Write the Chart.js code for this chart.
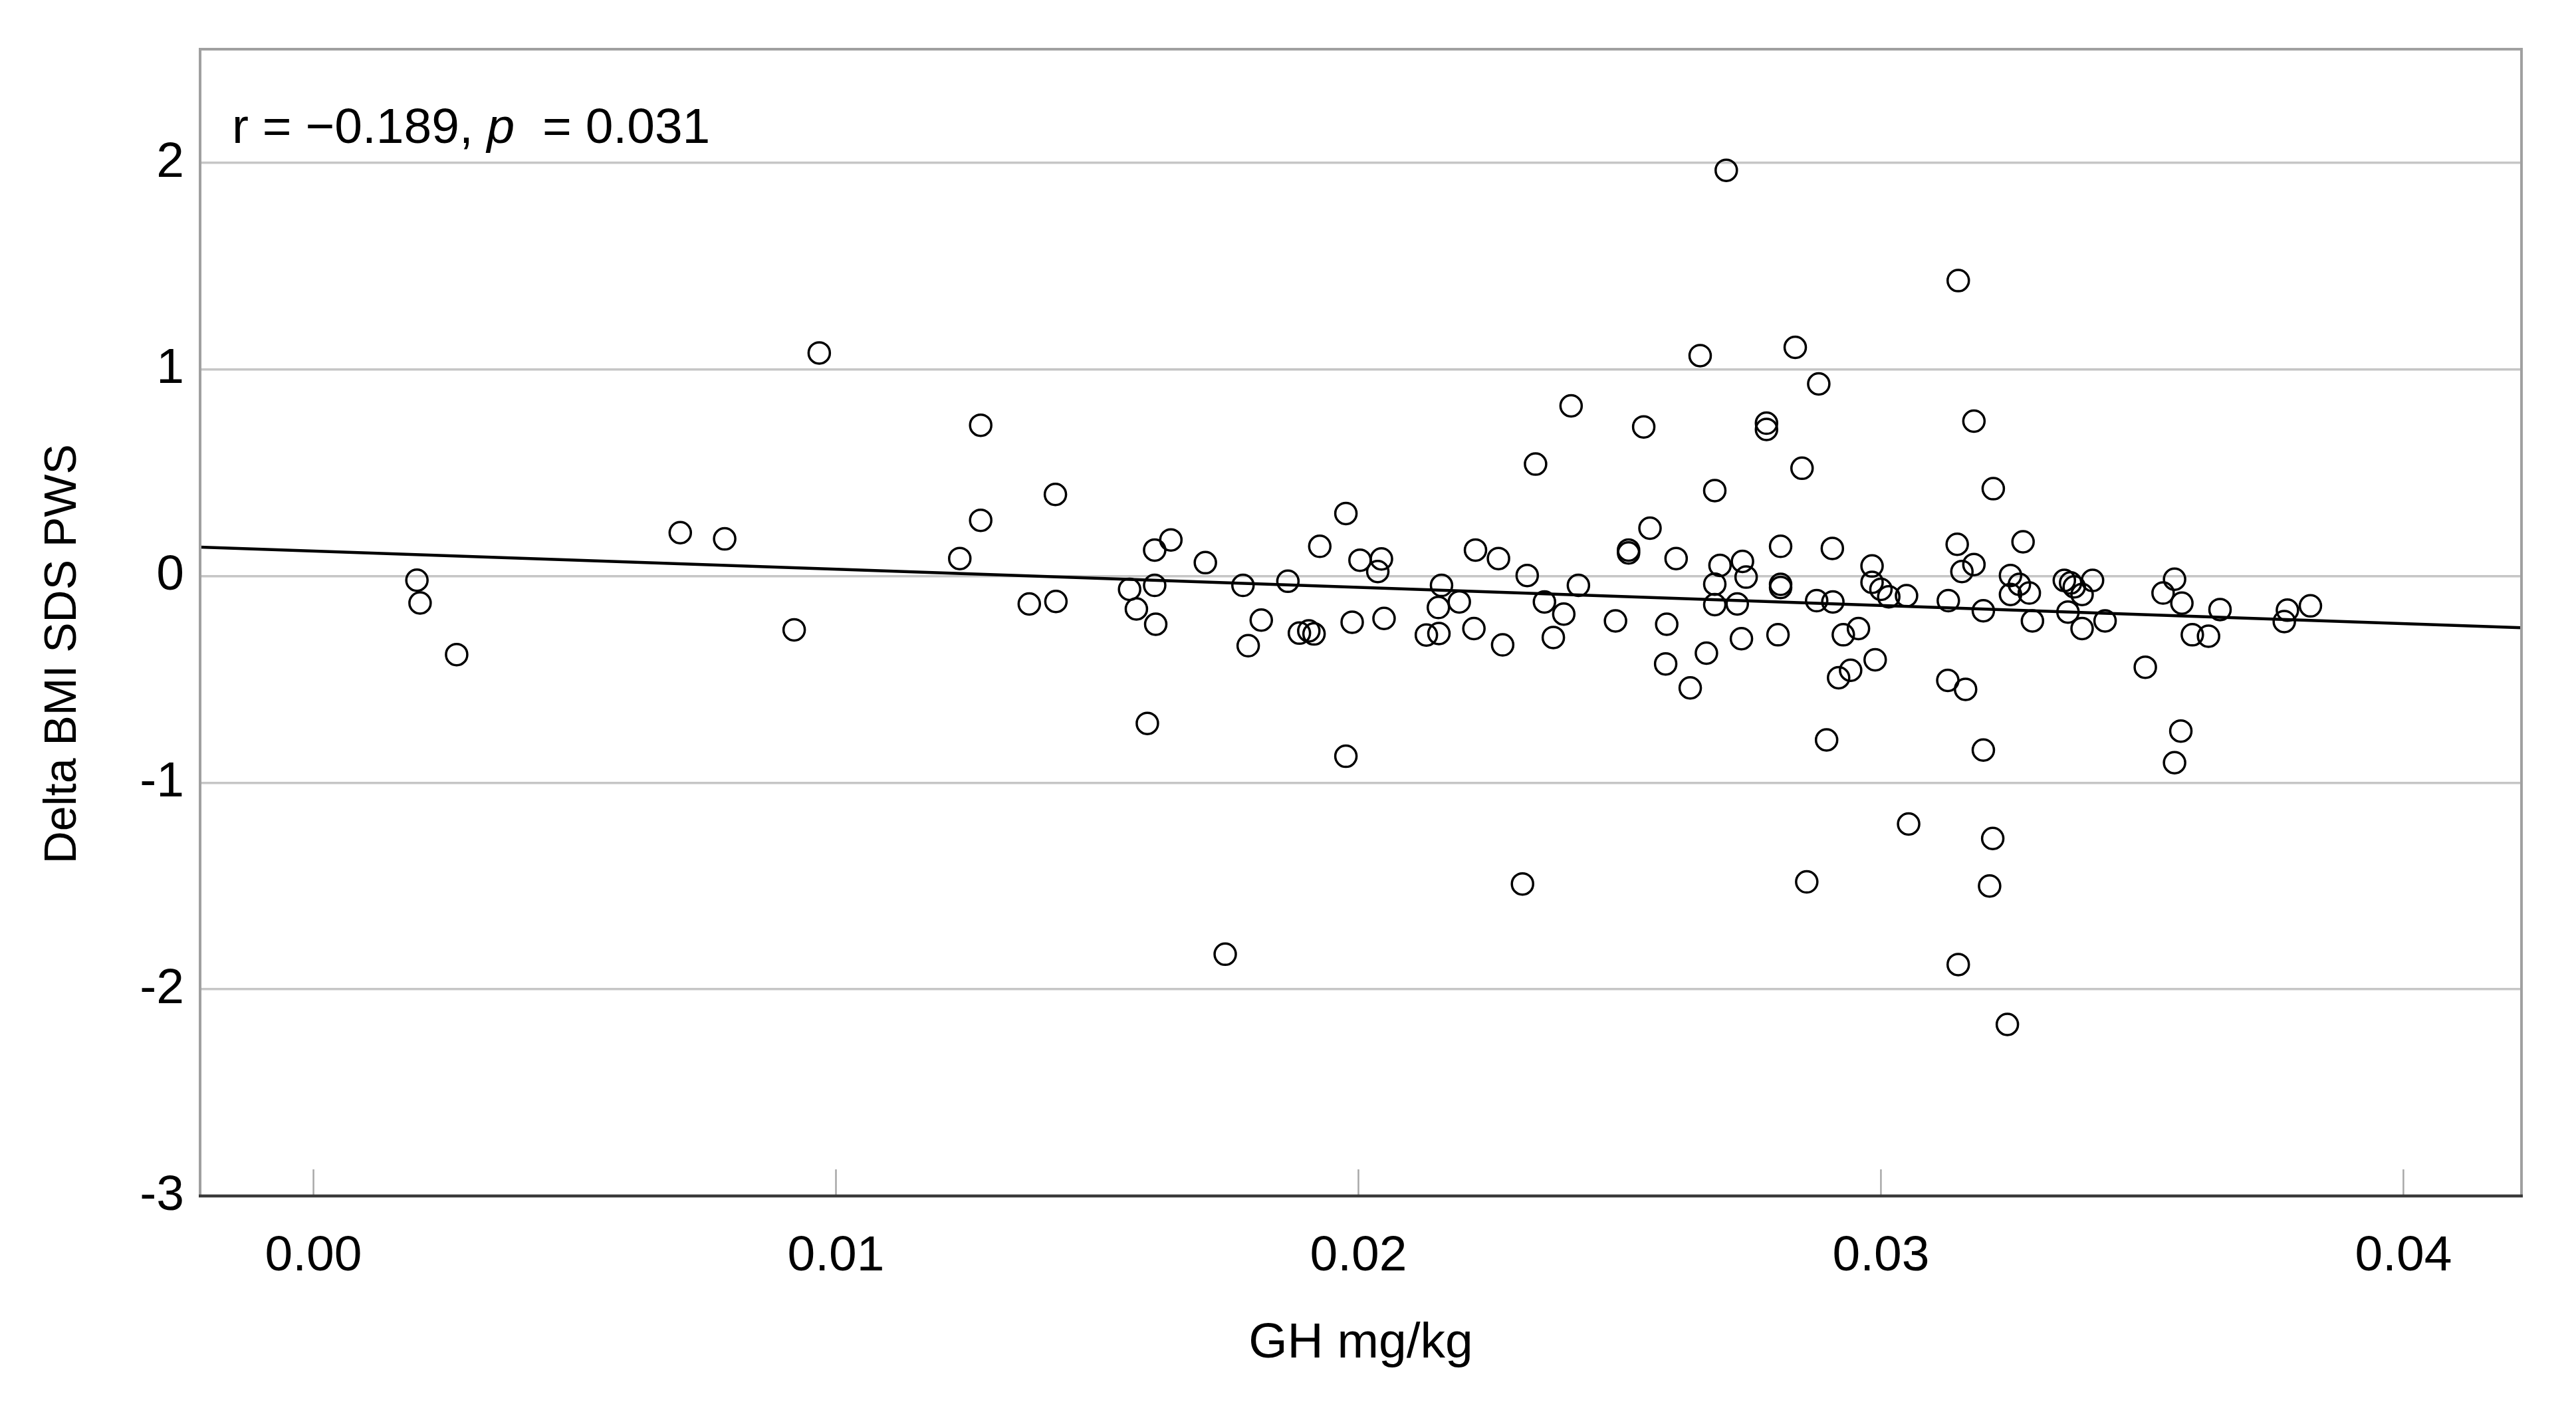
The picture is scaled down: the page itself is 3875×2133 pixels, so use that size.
<!DOCTYPE html>
<html>
<head>
<meta charset="utf-8">
<script src="https://cdn.jsdelivr.net/npm/chart.js@4.4.1/dist/chart.umd.min.js"></script>
<style>
  html, body { margin: 0; padding: 0; background: #fff; }
</style>
</head>
<body>
<canvas id="scatter" width="3875" height="2133"></canvas>
<script>
// GH dose per patient (mg/kg) and matching change in BMI SDS (PWS reference)
const ghDose = [
  0.00198, 0.00204, 0.00274, 0.00702, 0.00787, 0.00920, 0.00968,
  0.01237, 0.01277, 0.01277, 0.01370, 0.01420, 0.01421, 0.01562, 0.01575, 0.01596,
  0.01610, 0.01610, 0.01612, 0.01641, 0.01707, 0.01745, 0.01779, 0.01789, 0.01814,
  0.01865, 0.01887, 0.01905, 0.01915, 0.01926,
  0.01976, 0.01976, 0.01988, 0.02003, 0.02037, 0.02044, 0.02049, 0.02130, 0.02154,
  0.02153, 0.02159, 0.02193, 0.02221, 0.02224, 0.02268, 0.02276, 0.02314, 0.02323,
  0.02339, 0.02356, 0.02373, 0.02393, 0.02407, 0.02421, 0.02492, 0.02517, 0.02517,
  0.02546, 0.02558, 0.02588, 0.02590, 0.02608, 0.02635, 0.02654, 0.02666, 0.02682,
  0.02682, 0.02682, 0.02692, 0.02704,
  0.02725, 0.02733, 0.02735, 0.02742, 0.02781, 0.02781, 0.02803, 0.02808, 0.02808,
  0.02808, 0.02836, 0.02849, 0.02858, 0.02877, 0.02881, 0.02896, 0.02907, 0.02908,
  0.02919, 0.02928, 0.02942, 0.02957, 0.02983, 0.02983, 0.02989, 0.03000, 0.03015,
  0.03049, 0.03053, 0.03128, 0.03129, 0.03146, 0.03148, 0.03148, 0.03155, 0.03162,
  0.03178, 0.03178, 0.03196, 0.03196, 0.03208, 0.03214, 0.03215, 0.03242, 0.03248,
  0.03248, 0.03265, 0.03272, 0.03284, 0.03290, 0.03351, 0.03358, 0.03363, 0.03370,
  0.03385, 0.03385, 0.03405, 0.03429,
  0.03506, 0.03540, 0.03562, 0.03562, 0.03574, 0.03576, 0.03596, 0.03627, 0.03649,
  0.03772, 0.03778, 0.03822
];
const deltaBmi = [
  -0.02, -0.13, -0.38, 0.21, 0.18, -0.26, 1.08,
  0.085, 0.73, 0.27, -0.135, 0.395, -0.123, -0.064, -0.159, -0.713,
  0.126, -0.045, -0.233, 0.175, 0.065, -1.83, -0.045, -0.337, -0.213,
  -0.025, -0.276, -0.265, -0.28, 0.144,
  0.303, -0.872, -0.223, 0.077, 0.022, 0.083, -0.205, -0.285, -0.278,
  -0.152, -0.045, -0.125, -0.254, 0.126, 0.085, -0.333, -1.49, 0.003,
  0.542, -0.125, -0.297, -0.184, 0.824, -0.045, -0.217, 0.126, 0.112,
  0.722, 0.232, -0.425, -0.233, 0.085, -0.541, 1.067, -0.373, 0.414,
  -0.039, -0.138, 0.052, 1.964,
  -0.135, -0.303, 0.071, -0.005, 0.74, 0.71, -0.284, 0.144, -0.04,
  -0.055, 1.107, 0.522, -1.48, -0.119, 0.93, -0.793, 0.134, -0.125,
  -0.492, -0.284, -0.456, -0.254, 0.049, -0.03, -0.405, -0.064, -0.10,
  -0.095, -1.20, -0.505, -0.119, 0.154, 1.43, -1.88, 0.022, -0.548,
  0.75, 0.056, -0.168, -0.842, -1.50, -1.27, 0.423, -2.17, 0.003,
  -0.089, -0.04, 0.166, -0.082, -0.217, -0.021, -0.174, -0.033, -0.052,
  -0.089, -0.254, -0.021, -0.217,
  -0.441, -0.082, -0.015, -0.903, -0.750, -0.131, -0.284, -0.291, -0.162,
  -0.22, -0.165, -0.144
];

const xTicks = [0.00, 0.01, 0.02, 0.03, 0.04];
const yTicks = [-3, -2, -1, 0, 1, 2];
const xRange = [-0.00217, 0.04226];
const yRange = [-3, 2.55];

// linear fit
const fitIntercept = 0.121;
const fitSlope = -8.78;

const points = ghDose.map((d, i) => ({ x: d, y: deltaBmi[i] }));
const fitLine = xRange.map(x => ({ x: x, y: fitIntercept + fitSlope * x }));

const FONT = 'Liberation Sans, Arial, sans-serif';

// frame, inward x tick marks and the r / p label
const framePlugin = {
  id: 'frame',
  beforeDatasetsDraw(chart) {
    const { ctx, chartArea: a, scales: { x } } = chart;
    ctx.save();
    ctx.strokeStyle = '#a8a8a8';
    ctx.lineWidth = 2.5;
    x.ticks.forEach(t => {
      const px = x.getPixelForValue(t.value);
      ctx.beginPath();
      ctx.moveTo(px, a.bottom);
      ctx.lineTo(px, a.bottom - 40);
      ctx.stroke();
    });
    ctx.restore();
  },
  afterDatasetsDraw(chart) {
    const { ctx, chartArea: a } = chart;
    ctx.save();
    ctx.strokeStyle = '#a0a0a0';
    ctx.lineWidth = 4;
    ctx.beginPath();
    ctx.moveTo(a.left, a.bottom);
    ctx.lineTo(a.left, a.top);
    ctx.lineTo(a.right, a.top);
    ctx.lineTo(a.right, a.bottom);
    ctx.stroke();
    ctx.strokeStyle = '#3a3a3a';
    ctx.lineWidth = 4.5;
    ctx.beginPath();
    ctx.moveTo(a.left - 2, a.bottom);
    ctx.lineTo(a.right + 2, a.bottom);
    ctx.stroke();

    // statistics label
    let tx = a.left + 48;
    const ty = a.top + 141;
    ctx.fillStyle = '#000';
    ctx.textBaseline = 'alphabetic';
    ctx.textAlign = 'left';
    ctx.font = '75px ' + FONT;
    ctx.fillText('r = \u22120.189, ', tx, ty);
    tx += ctx.measureText('r = \u22120.189, ').width;
    ctx.font = 'italic 75px ' + FONT;
    ctx.fillText('p', tx, ty);
    tx += ctx.measureText('p').width;
    ctx.font = '75px ' + FONT;
    ctx.fillText('  = 0.031', tx, ty);
    ctx.restore();
  }
};

const ctx = document.getElementById('scatter').getContext('2d');
new Chart(ctx, {
  type: 'scatter',
  data: {
    datasets: [
      {
        label: 'Delta BMI SDS PWS',
        data: points,
        pointStyle: 'circle',
        pointRadius: 16,
        pointHoverRadius: 16,
        pointBorderWidth: 3.5,
        borderColor: '#000',
        backgroundColor: 'rgba(0,0,0,0)'
      },
      {
        type: 'line',
        label: 'Fit',
        data: fitLine,
        borderColor: '#000',
        borderWidth: 4.5,
        pointRadius: 0,
        fill: false
      }
    ]
  },
  options: {
    responsive: false,
    animation: false,
    devicePixelRatio: 1,
    layout: { padding: { top: 74, right: 82, left: 0, bottom: 0 } },
    plugins: {
      legend: { display: false },
      tooltip: { enabled: false }
    },
    scales: {
      x: {
        type: 'linear',
        min: xRange[0],
        max: xRange[1],
        afterBuildTicks: axis => { axis.ticks = xTicks.map(v => ({ value: v })); },
        afterFit: axis => { axis.height = 334; },
        grid: { display: false },
        border: { display: false },
        ticks: {
          color: '#000',
          padding: 38,
          font: { family: FONT, size: 75 },
          maxRotation: 0,
          callback: v => v.toFixed(2)
        },
        title: {
          display: true,
          text: 'GH mg/kg',
          color: '#000',
          font: { family: FONT, size: 75 },
          padding: { top: 0, bottom: 67 }
        }
      },
      y: {
        type: 'linear',
        min: yRange[0],
        max: yRange[1],
        afterBuildTicks: axis => { axis.ticks = yTicks.map(v => ({ value: v })); },
        afterFit: axis => { axis.width = 301; },
        grid: { color: '#c6c6c6', lineWidth: 3.5, drawTicks: false },
        border: { display: false },
        ticks: {
          color: '#000',
          padding: 24,
          font: { family: FONT, size: 75 },
          callback: v => String(v)
        },
        title: {
          display: true,
          // trailing spaces nudge the rotated title down like the original
          text: 'Delta BMI SDS PWS\u00a0\u00a0\u00a0\u00a0\u00a0',
          color: '#000',
          font: { family: FONT, size: 68 },
          padding: { top: 54, bottom: 0 }
        }
      }
    }
  },
  plugins: [framePlugin]
});
</script>
</body>
</html>
